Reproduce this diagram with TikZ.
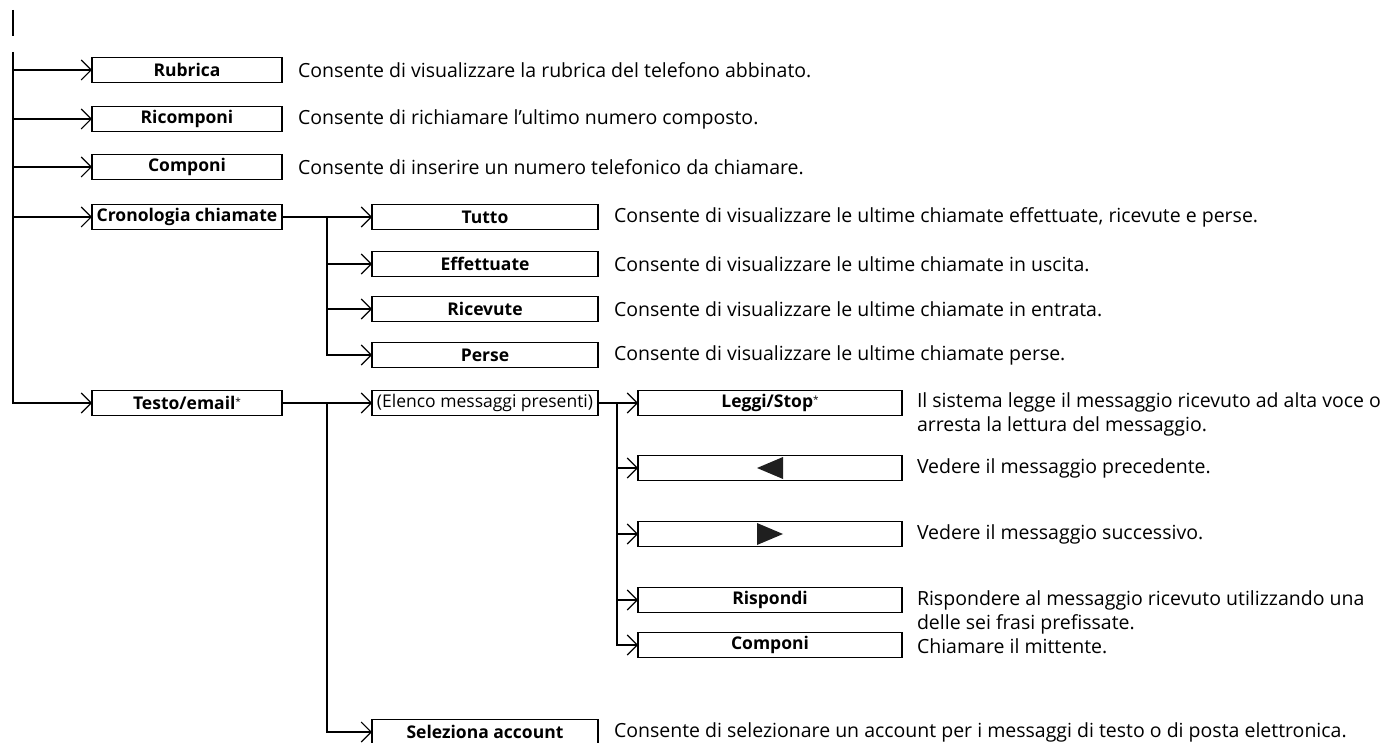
\documentclass[tikz,border=0pt]{standalone}
\usepackage{fontspec}
\setmainfont{Open Sans}
\usetikzlibrary{arrows.meta, positioning, calc}
\newcommand{\starnote}{\raisebox{4pt}{\normalfont\fontsize{10}{10}\selectfont *}}

\begin{document}
\begin{tikzpicture}[x=1pt, y=-1pt,
    every node/.style={inner sep=0pt, outer sep=0pt},
    menu/.style={draw, line width=1.1pt, anchor=west, minimum height=25pt,
        font=\bfseries\fontsize{17.5}{20}\selectfont},
    lvlone/.style={menu, minimum width=190pt},
    lvltwo/.style={menu, minimum width=226pt},
    lvlthree/.style={menu, minimum width=264pt},
    info/.style={anchor=west, align=left, font=\fontsize{19.5}{23.5}\selectfont},
    link/.style={line width=2pt, -{Straight Barb[length=10pt, width=20pt, line width=1.1pt]}},
    trunk/.style={line width=2pt},
]
\useasboundingbox (0,0) rectangle (1387,743);

% the root of the menu
\draw[trunk] (13,10) -- (13,36);
\coordinate (root) at (13,52);

% first level
\foreach \id/\y/\lab/\txt in {
    rubrica/70/Rubrica/{Consente di visualizzare la rubrica del telefono abbinato.},
    ricomponi/119/Ricomponi/{Consente di richiamare l'ultimo numero composto.},
    componi/167/Componi/{Consente di inserire un numero telefonico da chiamare.}}{
    \node[lvlone] (\id) at (92,\y) {\lab};
    \node[info] (\id-info) at (298,\y) {\txt};
    \draw[link] (root |- \id.west) -- (\id.west);
}
\node[lvlone] (crono) at (92,217) {Cronologia chiamate};
\node[lvlone] (testo) at (92,403) {Testo/email\starnote};
\draw[link] (root |- crono.west) -- (crono.west);
\draw[link] (root) |- (testo.west);

% call history
\coordinate (cj) at (327,217);
\foreach \id/\y/\lab/\txt in {
    tutto/217/Tutto/{Consente di visualizzare le ultime chiamate effettuate, ricevute e perse.},
    effettuate/264/Effettuate/{Consente di visualizzare le ultime chiamate in uscita.},
    ricevute/309/Ricevute/{Consente di visualizzare le ultime chiamate in entrata.},
    perse/355/Perse/{Consente di visualizzare le ultime chiamate perse.}}{
    \node[lvltwo] (\id) at (372,\y) {\lab};
    \node[info] (\id-info) at (614,\y) {\txt};
}
\draw[link] (crono.east) -- (tutto.west);
\draw[link] (cj) |- (perse.west);
\foreach \id in {effettuate, ricevute}
    \draw[link] (cj |- \id.west) -- (\id.west);

% text and email
\coordinate (tj) at (327,403);
\node[lvltwo, font=\fontsize{17.5}{20}\selectfont] (elenco) at (372,403) {(Elenco messaggi presenti)};
\node[lvltwo] (account) at (372,732) {Seleziona account};
\node[info] (account-info) at (614,732)
    {Consente di selezionare un account per i messaggi di testo o di posta elettronica.};
\draw[link] (testo.east) -- (elenco.west);
\draw[link] (tj) |- (account.west);

% one message
\coordinate (ej) at (617,403);
\node[lvlthree] (leggi) at (638,403) {Leggi/Stop\starnote};
\node[lvlthree] (prev) at (638,468) {};
\node[lvlthree] (next) at (638,534) {};
\node[lvlthree] (rispondi) at (638,600) {Rispondi};
\node[lvlthree] (chiama) at (638,645) {Componi};
\fill[black!88] ([xshift=-13pt]prev.center) -- ([xshift=13pt, yshift=11pt]prev.center)
    -- ([xshift=13pt, yshift=-11pt]prev.center) -- cycle;
\fill[black!88] ([xshift=13pt]next.center) -- ([xshift=-13pt, yshift=11pt]next.center)
    -- ([xshift=-13pt, yshift=-11pt]next.center) -- cycle;

\node[info, anchor=north west] (leggi-info) at (917,393)
    {Il sistema legge il messaggio ricevuto ad alta voce o\\arresta la lettura del messaggio.};
\node[info] (prev-info) at (917,468) {Vedere il messaggio precedente.};
\node[info] (next-info) at (917,534) {Vedere il messaggio successivo.};
\node[info, anchor=north west] (rispondi-info) at (917,591)
    {Rispondere al messaggio ricevuto utilizzando una\\delle sei frasi prefissate.};
\node[info] (chiama-info) at (917,646) {Chiamare il mittente.};

\draw[link] (elenco.east) -- (leggi.west);
\draw[link] (ej) |- (chiama.west);
\foreach \id in {prev, next, rispondi}
    \draw[link] (ej |- \id.west) -- (\id.west);
\end{tikzpicture}
\end{document}
